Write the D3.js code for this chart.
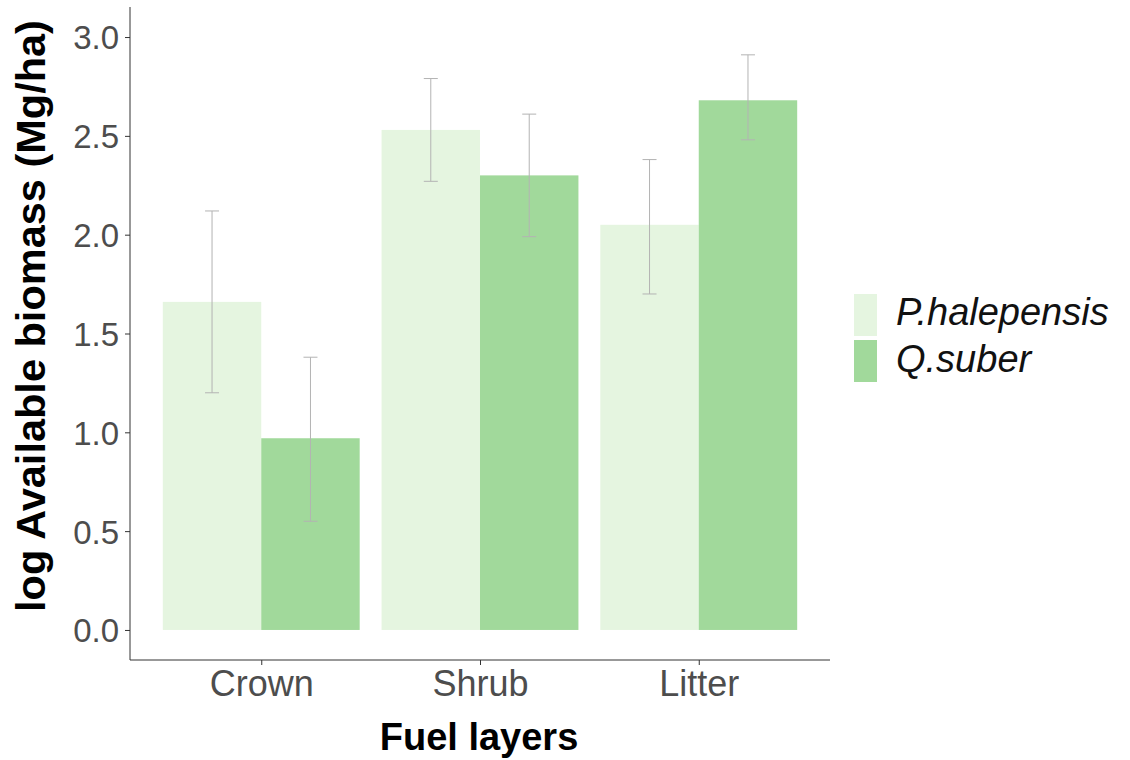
<!DOCTYPE html>
<html>
<head>
<meta charset="utf-8">
<script src="https://cdn.jsdelivr.net/npm/d3@7"></script>
<style>
  body { margin: 0; background: #fff; }
  svg { font-family: "Liberation Sans", Arial, sans-serif; }
</style>
</head>
<body>
<svg width="1130" height="760"></svg>
<script>
// data
const layers = ["Crown", "Shrub", "Litter"];
const species = ["P.halepensis", "Q.suber"];
const pMean = [1.66, 2.53, 2.05];
const pLow = [1.20, 2.27, 1.70];
const pHigh = [2.12, 2.79, 2.38];
const qMean = [0.97, 2.30, 2.68];
const qLow = [0.55, 1.99, 2.48];
const qHigh = [1.38, 2.61, 2.91];
const yTicks = [0, 0.5, 1, 1.5, 2, 2.5, 3];
const colors = ["#e5f5e0", "#a1d99b"];

const rows = [];
layers.forEach((l, i) => {
  rows.push({ layer: l, sp: species[0], mean: pMean[i], lo: pLow[i], hi: pHigh[i] });
  rows.push({ layer: l, sp: species[1], mean: qMean[i], lo: qLow[i], hi: qHigh[i] });
});

const svg = d3.select("svg");
const plotL = 130, plotR = 830, plotT = 7, plotB = 660;

// ggplot-like discrete axis: 0.6 units of expansion on each side
const step = (plotR - plotL) / 3.2;
const xc = d => plotL + step * (0.6 + layers.indexOf(d));
const bw = step * 0.9;
const xSub = d3.scaleBand().domain(species).range([-bw / 2, bw / 2]);

const y = d3.scaleLinear().domain([-0.152, 3.152]).range([plotB, plotT]);
const color = d3.scaleOrdinal().domain(species).range(colors);

svg.append("g").selectAll("rect").data(rows).join("rect")
  .attr("x", d => xc(d.layer) + xSub(d.sp))
  .attr("y", d => y(d.mean))
  .attr("width", xSub.bandwidth())
  .attr("height", d => y(0) - y(d.mean))
  .attr("fill", d => color(d.sp));

const eb = svg.append("g").attr("stroke", "#b3b3b3").attr("stroke-width", 1);
rows.forEach(d => {
  const cx = xc(d.layer) + xSub(d.sp) + xSub.bandwidth() / 2;
  eb.append("line").attr("x1", cx).attr("x2", cx).attr("y1", y(d.lo)).attr("y2", y(d.hi));
  eb.append("line").attr("x1", cx - 7).attr("x2", cx + 7).attr("y1", y(d.lo)).attr("y2", y(d.lo));
  eb.append("line").attr("x1", cx - 7).attr("x2", cx + 7).attr("y1", y(d.hi)).attr("y2", y(d.hi));
});

// axes
const yAxis = d3.axisLeft(y).tickValues(yTicks).tickFormat(d3.format(".1f")).tickSize(5).tickPadding(6);
const gy = svg.append("g").attr("transform", `translate(${plotL},0)`).call(yAxis);
gy.select(".domain").attr("d", `M0,${plotT}V${plotB}`).attr("stroke", "#333");
gy.selectAll(".tick line").attr("stroke", "#333");
gy.selectAll("text").attr("font-size", 33).attr("fill", "#4d4d4d").attr("dy", "0.36em");

const xAxis = d3.axisBottom(d3.scalePoint().domain(layers).range([xc("Crown"), xc("Litter")])).tickSize(5);
const gx = svg.append("g").attr("transform", `translate(0,${plotB})`).call(xAxis);
gx.select(".domain").attr("d", `M${plotL},0H${plotR}`).attr("stroke", "#333");
gx.selectAll(".tick line").attr("stroke", "#333");
gx.selectAll("text").attr("font-size", 36).attr("fill", "#4d4d4d").attr("y", 36).attr("dy", 0);

svg.append("text").attr("x", 479).attr("y", 750).attr("text-anchor", "middle")
  .attr("font-size", 38).attr("font-weight", "bold").text("Fuel layers");
svg.append("text").attr("transform", "translate(45,316) rotate(-90)").attr("text-anchor", "middle")
  .attr("font-size", 41.5).attr("font-weight", "bold").text("log Available biomass (Mg/ha)");

// legend
const lg = svg.append("g").attr("transform", "translate(854,294)");
species.forEach((s, i) => {
  lg.append("rect").attr("x", 0).attr("y", i * 46).attr("width", 23).attr("height", 42).attr("fill", colors[i]);
  lg.append("text").attr("x", 42).attr("y", i * 47 + 31).attr("font-size", 38)
    .attr("font-style", "italic").attr("fill", "#111").text(s);
});
</script>
</body>
</html>
